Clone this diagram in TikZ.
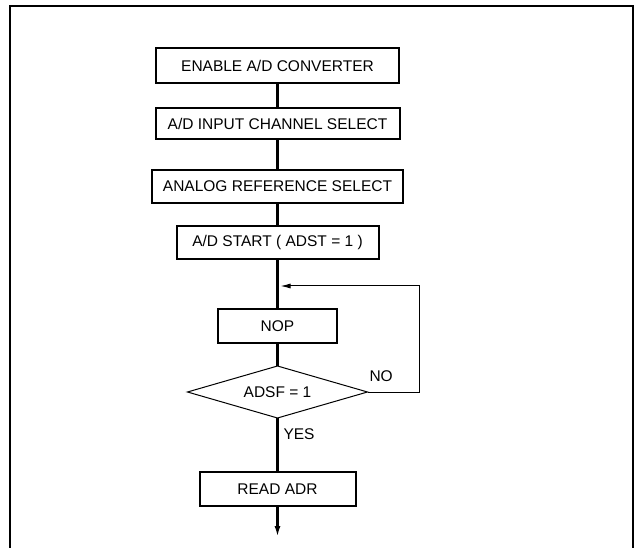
\documentclass[tikz,border=0pt]{standalone}
\usepackage{fontspec}
\setmainfont{Liberation Sans}
\usetikzlibrary{arrows.meta,positioning,shapes.geometric}

\begin{document}
\begin{tikzpicture}[x=1pt,y=-1pt,>=Latex,node distance=25pt,font=\fontsize{15.5}{18}\selectfont]
  \tikzstyle{stepbox}=[draw,line width=2pt,inner sep=0pt,outer sep=0pt,align=center,minimum height=34pt]
  \tikzstyle{flow}=[line width=2.1pt]
  \tikzstyle{loopline}=[line width=1pt]
  \tikzstyle{lbl}=[inner sep=0pt,outer sep=0pt]
  \useasboundingbox (0,0) rectangle (635,548);
  \draw[line width=2.2pt] (10,548) |- (633,6) -- (633,548);
  \node[stepbox,minimum width=243pt,minimum height=35pt] (enable) at (277.5,65.5) {ENABLE A/D CONVERTER};
  \node[stepbox,minimum width=244pt,minimum height=31pt,below=25pt of enable] (channel) {A/D INPUT CHANNEL SELECT};
  \node[stepbox,minimum width=251pt,minimum height=33pt,below=31pt of channel] (refsel) {ANALOG REFERENCE SELECT};
  \node[stepbox,minimum width=202pt,minimum height=33pt,below=23pt of refsel] (start) {A/D START ( ADST = 1 )};
  \node[stepbox,minimum width=119pt,below=50pt of start] (nop) {NOP};
  \node[draw,diamond,aspect=3.46,loopline,inner sep=0pt,outer sep=0pt,minimum width=180pt,minimum height=52pt,below=23pt of nop] (decide) {ADSF = 1};
  \node[stepbox,minimum width=156pt,below=54pt of decide] (read) {READ ADR};
  \coordinate[below=27pt of start] (join);
  \coordinate[below=31pt of read] (exit);
  \draw[flow] (enable) -- (channel);
  \draw[flow] (channel) -- (refsel);
  \draw[flow] (refsel) -- (start);
  \draw[flow] (start) -- (nop);
  \draw[flow] (nop) -- (decide);
  \draw[flow] (decide) -- (read);
  \draw[flow,-{Latex[length=11pt,width=6pt]}] (read) -- (exit);
  \draw[loopline,-{Latex[length=10pt,width=5pt]}] (decide.east) -- ++(52,0) |- ([xshift=3pt]join);
  \node[lbl,above right=10pt and 2pt of decide.east] (nolbl) {NO};
  \node[lbl,below right=11pt and 6pt of decide.south] (yeslbl) {YES};
\end{tikzpicture}
\end{document}
